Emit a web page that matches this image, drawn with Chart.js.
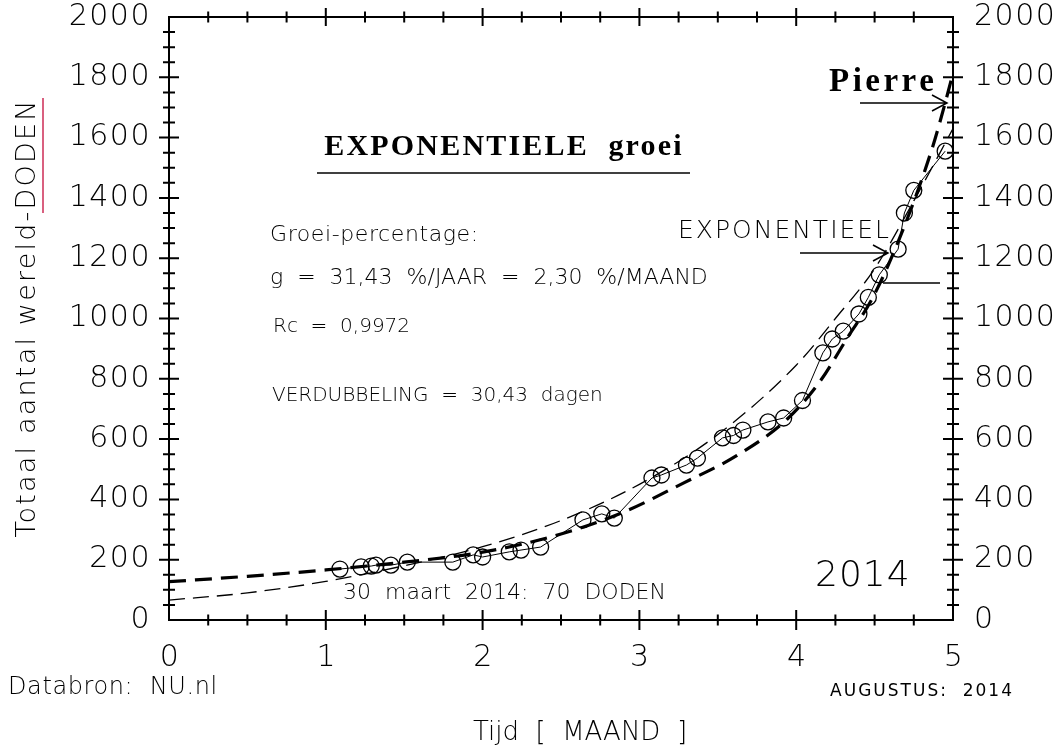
<!DOCTYPE html>
<html>
<head>
<meta charset="utf-8">
<title>Exponentiele groei</title>
<script src="https://cdn.jsdelivr.net/npm/chart.js@4.4.0/dist/chart.umd.min.js"></script>
<style>
    html, body { margin: 0; padding: 0; background: #ffffff; }
    #chart { display: block; }
</style>
</head>
<body>
<canvas id="chart" width="1058" height="749"></canvas>
<script>
// Gemeten punten (maand, totaal aantal doden)
const months = [1.09, 1.225, 1.29, 1.32, 1.415, 1.52, 1.81, 1.94, 2.0, 2.17, 2.245, 2.37,
    2.64, 2.76, 2.84, 3.08, 3.14, 3.3, 3.37, 3.53, 3.6, 3.66, 3.82, 3.92, 4.04,
    4.17, 4.23, 4.30, 4.40, 4.46, 4.53, 4.65, 4.69, 4.75, 4.95];
const deaths = [169, 176, 179, 182, 182, 192, 192, 216, 209, 226, 232, 242,
    332, 352, 338, 471, 481, 514, 537, 604, 612, 630, 657, 670, 728,
    886, 932, 958, 1015, 1070, 1145, 1230, 1350, 1425, 1555];

// Exponentiele fit (dun gestreept)
const expMonths = [0, 0.5, 1, 1.5, 2, 2.5, 3, 3.5, 4, 4.25, 4.5, 4.75, 5];
const expValues = [66, 90, 128, 180, 243, 330, 450, 615, 845, 1000, 1165, 1390, 1630];

// Curve "Pierre" (dik gestreept)
const pierreMonths = [0, 0.5, 1, 1.5, 2, 2.5, 2.9, 3.28, 3.62, 3.94, 4.15, 4.33, 4.49, 4.68, 4.87, 4.95, 5.0];
const pierreValues = [127, 145, 166, 192, 225, 285, 358, 454, 545, 665, 790, 939, 1071, 1293, 1569, 1715, 1814];

// As-labels
const xTickLabels = [0, 1, 2, 3, 4, 5];
const yTickLabels = [0, 200, 400, 600, 800, 1000, 1200, 1400, 1600, 1800, 2000];

const thinFont = "'DejaVu Sans', 'Noto Sans', sans-serif";
const serifFont = "'Liberation Serif', 'DejaVu Serif', serif";

function toXY(xs, ys) {
    return xs.map(function(x, i) { return { x: x, y: ys[i] }; });
}

function text(ctx, s, x, y, font, align, spacing) {
    ctx.font = font;
    ctx.textAlign = align || 'left';
    ctx.textBaseline = 'middle';
    ctx.letterSpacing = (spacing || 0) + 'px';
    ctx.fillText(s, x, y);
    ctx.letterSpacing = '0px';
}

function arrow(ctx, x1, x2, y, head) {
    ctx.beginPath();
    ctx.moveTo(x1, y);
    ctx.lineTo(x2, y);
    if (head) {
        ctx.moveTo(x2 - 15, y - 8);
        ctx.lineTo(x2, y);
        ctx.lineTo(x2 - 15, y + 8);
    }
    ctx.stroke();
}

// Kader, tikjes, labels en teksten
const framePlugin = {
    id: 'frame',
    afterDraw(chart) {
        const ctx = chart.ctx;
        const xs = chart.scales.x;
        const ys = chart.scales.y;
        const a = chart.chartArea;

        ctx.save();
        ctx.strokeStyle = '#000';
        ctx.fillStyle = '#000';
        ctx.lineWidth = 2;
        ctx.strokeRect(a.left, a.top, a.right - a.left, a.bottom - a.top);

        // y tikjes links en rechts
        for (let v = 50; v < 2000; v += 50) {
            const py = ys.getPixelForValue(v);
            const h = v % 200 === 0 ? 10 : 6;
            ctx.beginPath();
            ctx.moveTo(a.left - h, py); ctx.lineTo(a.left + h, py);
            ctx.moveTo(a.right - h, py); ctx.lineTo(a.right + h, py);
            ctx.stroke();
        }
        // x tikjes boven en onder
        for (let m = 0.25; m < 5; m += 0.25) {
            const px = xs.getPixelForValue(m);
            const major = Math.abs(m - Math.round(m)) < 0.01;
            const hb = major ? 10 : 5.5;
            const ht = major ? 9 : 5.5;
            ctx.beginPath();
            ctx.moveTo(px, a.bottom - hb); ctx.lineTo(px, a.bottom + hb);
            ctx.moveTo(px, a.top - ht); ctx.lineTo(px, a.top + ht);
            ctx.stroke();
        }

        // tick labels
        yTickLabels.forEach(function(v) {
            const py = ys.getPixelForValue(v);
            text(ctx, String(v), a.left - 18, py, '200 30px ' + thinFont, 'right', 1.5);
            text(ctx, String(v), a.right + 21, py, '200 30px ' + thinFont, 'left', 1.5);
        });
        xTickLabels.forEach(function(v) {
            text(ctx, String(v), xs.getPixelForValue(v) + 1, 658, '200 30px ' + thinFont, 'center', 1.5);
        });

        // as-titels
        ctx.save();
        ctx.translate(28, 318);
        ctx.rotate(-Math.PI / 2);
        text(ctx, 'Totaal aantal wereld-DODEN', 0, 0, '200 27px ' + thinFont, 'center', 2.2);
        ctx.restore();
        text(ctx, 'Tijd  [  MAAND  ]', 580, 733, '200 26px ' + thinFont, 'center');
        text(ctx, 'Databron:  NU.nl', 8, 688, '200 24px ' + thinFont, 'left', 0.6);
        text(ctx, 'AUGUSTUS:  2014', 1014, 692, '17px ' + thinFont, 'right', 2);

        // roze streep
        ctx.strokeStyle = '#d9607f';
        ctx.lineWidth = 2;
        ctx.beginPath();
        ctx.moveTo(43, 98); ctx.lineTo(43, 213);
        ctx.stroke();
        ctx.strokeStyle = '#000';

        // titel
        text(ctx, 'EXPONENTIELE  groei', 504, 147, 'bold 30px ' + serifFont, 'center', 2.2);
        ctx.lineWidth = 1.5;
        ctx.beginPath();
        ctx.moveTo(317, 173); ctx.lineTo(690, 173);
        ctx.stroke();

        text(ctx, 'Groei-percentage:', 270, 235, '200 22px ' + thinFont, 'left', 0.6);
        text(ctx, 'g  =  31,43  %/JAAR  =  2,30  %/MAAND', 270, 278, '200 22px ' + thinFont);
        text(ctx, 'Rc  =  0,9972', 273, 327, '200 20px ' + thinFont);
        text(ctx, 'VERDUBBELING  =  30,43  dagen', 272, 396, '200 20px ' + thinFont);
        text(ctx, '30  maart  2014:  70  DODEN', 343, 593, '200 22px ' + thinFont);
        text(ctx, '2014', 815, 577, '200 36px ' + thinFont, 'left', 1);

        text(ctx, 'EXPONENTIEEL', 678, 231, '200 25px ' + thinFont, 'left', 2);
        ctx.lineWidth = 1.5;
        arrow(ctx, 800, 888, 253, true);
        arrow(ctx, 883, 940, 283, false);

        text(ctx, 'Pierre', 829, 82, 'bold 33px ' + serifFont, 'left', 3.5);
        arrow(ctx, 860, 947, 103, true);

        ctx.restore();
    }
};

new Chart(document.getElementById('chart').getContext('2d'), {
    type: 'scatter',
    data: {
        datasets: [{
            label: 'Doden',
            data: toXY(months, deaths),
            showLine: true,
            borderColor: '#000',
            borderWidth: 1,
            pointRadius: 8,
            pointBorderWidth: 1.3,
            pointBorderColor: '#000',
            pointBackgroundColor: 'rgba(0,0,0,0)',
            order: 1
        }, {
            label: 'Exponentieel',
            data: toXY(expMonths, expValues),
            showLine: true,
            borderColor: '#000',
            borderWidth: 1.3,
            borderDash: [16, 8],
            pointRadius: 0,
            cubicInterpolationMode: 'monotone',
            order: 2
        }, {
            label: 'Pierre',
            data: toXY(pierreMonths, pierreValues),
            showLine: true,
            borderColor: '#000',
            borderWidth: 3.2,
            borderDash: [17, 9],
            pointRadius: 0,
            cubicInterpolationMode: 'monotone',
            order: 3
        }]
    },
    options: {
        responsive: false,
        animation: false,
        events: [],
        layout: {
            padding: { left: 169, top: 17, right: 105, bottom: 129 }
        },
        plugins: {
            legend: { display: false },
            tooltip: { enabled: false }
        },
        scales: {
            x: { type: 'linear', min: 0, max: 5, display: false },
            y: { type: 'linear', min: 0, max: 2000, display: false }
        }
    },
    plugins: [framePlugin]
});
</script>
</body>
</html>
